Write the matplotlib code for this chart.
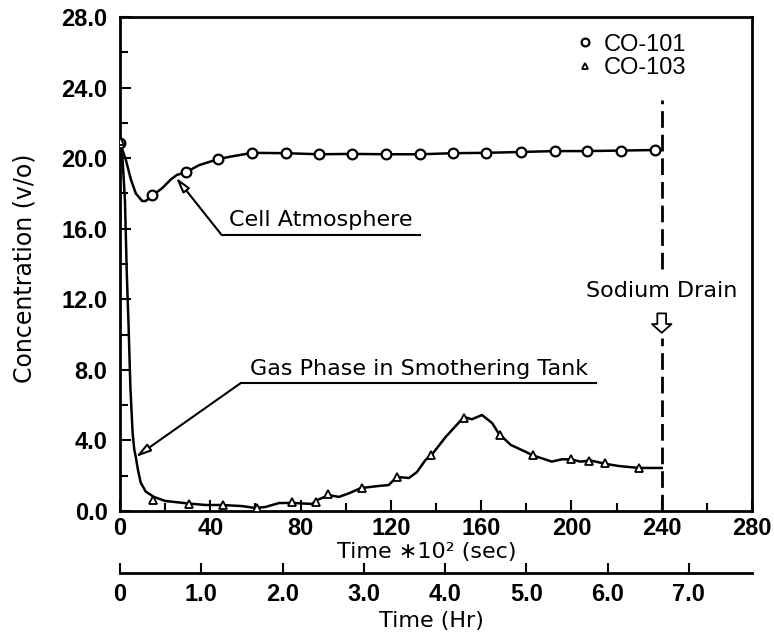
import matplotlib.pyplot as plt
from matplotlib.ticker import MultipleLocator, FormatStrFormatter

# ---- data (time in 10^2 sec, concentration in v/o) ----
co101_t = [0, 14.2, 29.2, 43.6, 58.7, 73.6, 88.2, 102.7, 118, 132.9, 147.5, 162, 177.6, 192.7, 206.8, 221.9, 237]
co101_c = [20.86, 17.9, 19.2, 19.95, 20.3, 20.28, 20.22, 20.24, 20.22, 20.22, 20.28, 20.3, 20.35, 20.4, 20.4, 20.43, 20.46]

cell_t = [0, 1.0, 2.6, 4.8, 7.0, 9.8, 11.4, 14.2, 18.7, 22.6, 25.2, 29.2, 35, 43.6, 49.6, 58.7,
          73.6, 88.2, 102.7, 118, 132.9, 147.5, 162, 177.6, 192.7, 206.8, 221.9, 237]
cell_c = [20.86, 20.5, 19.9, 18.8, 18.0, 17.57, 17.57, 17.86, 18.3, 18.8, 19.05, 19.2, 19.6, 19.95, 20.1, 20.3,
          20.28, 20.22, 20.24, 20.22, 20.22, 20.28, 20.3, 20.35, 20.4, 20.4, 20.43, 20.46]

co103_t = [0, 14.7, 30.6, 45.6, 60.8, 76, 86.7, 92, 107, 122.5, 137.8, 152.3, 168.3, 183, 199.7, 208, 215, 230]
co103_c = [21.0, 0.62, 0.42, 0.35, 0.17, 0.5, 0.5, 0.95, 1.3, 1.93, 3.2, 5.25, 4.3, 3.2, 2.94, 2.85, 2.7, 2.45]

gas_t = [0, 1.2, 2.2, 3.0, 3.8, 4.6, 5.6, 6.3, 7.0, 8.0, 9.2, 11.4, 15, 20, 30.6, 38, 45, 54, 60, 64.5,
         70.4, 76, 85, 87, 92.5, 97, 101.4, 106.7, 114.7, 119, 122.7, 128, 131.5, 135.4, 138.2, 144.3,
         149.3, 152.4, 155.9, 160.4, 164.9, 167.9, 173.2, 179.8, 182.5, 191.3, 195.8, 199.7, 204, 208.6,
         215.2, 221, 229.9, 240]
gas_c = [21.0, 19.8, 17.6, 13.5, 10.5, 7.0, 4.4, 3.5, 3.06, 2.3, 1.6, 1.1, 0.8, 0.57, 0.42, 0.34, 0.34, 0.28, 0.17, 0.23,
         0.45, 0.46, 0.4, 0.6, 0.9, 0.8, 1.0, 1.3, 1.42, 1.47, 1.93, 1.87, 2.2, 2.9, 3.2, 4.2,
         4.9, 5.33, 5.2, 5.44, 4.98, 4.37, 3.74, 3.35, 3.17, 2.8, 2.93, 2.93, 2.8, 2.86,
         2.67, 2.55, 2.44, 2.44]

drain_t = 240

hr_ticks = [0, 1, 2, 3, 4, 5, 6, 7]
hr_labels = ['0', '1.0', '2.0', '3.0', '4.0', '5.0', '6.0', '7.0']

numfont = ['Liberation Sans', 'DejaVu Sans']

fig = plt.figure(figsize=(7.74, 6.41), dpi=100)
fig.subplots_adjust(left=120/774, right=752/774, top=1-17/641, bottom=1-511/641)
ax = fig.add_subplot(111)

# curves
ax.plot(cell_t, cell_c, color='black', lw=1.8, zorder=2)
ax.plot(gas_t, gas_c, color='black', lw=1.8, zorder=2)
ax.plot(co101_t, co101_c, 'o', ms=7, mfc='white', mec='black', mew=1.6, zorder=3, label='CO-101')
ax.plot(co103_t, co103_c, '^', ms=6, mfc='white', mec='black', mew=1.3, zorder=3, label='CO-103')

# sodium drain marker
ax.plot([drain_t, drain_t], [13.7, 23.3], color='black', lw=2, ls=(0, (6, 2.5)))
ax.plot([drain_t, drain_t], [0, 9.8], color='black', lw=2, ls=(0, (6, 2.5)))
ax.text(drain_t, 12.13, 'Sodium Drain', ha='center', va='baseline', fontsize=16)
ax.annotate('', xy=(drain_t, 10.1), xytext=(drain_t, 11.2),
            arrowprops=dict(arrowstyle='simple,head_length=0.45,head_width=1.0,tail_width=0.45',
                            fc='white', ec='black', lw=1.3, mutation_scale=14, shrinkA=0, shrinkB=0))

# callouts
ax.annotate('', xy=(24.8, 18.9), xytext=(45, 15.65),
            arrowprops=dict(arrowstyle='-|>,head_length=0.9,head_width=0.25', fc='white', ec='black',
                            lw=1.5, mutation_scale=10, shrinkA=0, shrinkB=0))
ax.plot([45, 133], [15.65, 15.65], color='black', lw=1.5)
ax.text(89, 16.15, 'Cell Atmosphere', ha='center', va='baseline', fontsize=16)

ax.annotate('', xy=(7.0, 3.06), xytext=(53.6, 7.26),
            arrowprops=dict(arrowstyle='-|>,head_length=0.9,head_width=0.25', fc='white', ec='black',
                            lw=1.5, mutation_scale=10, shrinkA=0, shrinkB=0))
ax.plot([53.6, 211], [7.26, 7.26], color='black', lw=1.5)
ax.text(132.5, 7.7, 'Gas Phase in Smothering Tank', ha='center', va='baseline', fontsize=16)

# axes
ax.set_xlim(0, 280)
ax.set_ylim(0, 28)
ax.xaxis.set_major_locator(MultipleLocator(40))
ax.xaxis.set_minor_locator(MultipleLocator(20))
ax.yaxis.set_major_locator(MultipleLocator(4))
ax.yaxis.set_minor_locator(MultipleLocator(2))
ax.yaxis.set_major_formatter(FormatStrFormatter('%.1f'))
ax.tick_params(which='both', direction='in', top=False, right=False, width=1.5)
ax.tick_params(which='major', length=8)
ax.tick_params(which='minor', length=6)
ax.tick_params(axis='y', pad=9)
ax.tick_params(axis='x', pad=4)
for lab in ax.get_xticklabels() + ax.get_yticklabels():
    lab.set_family(numfont)
    lab.set_fontsize(17)
    lab.set_fontweight('bold')
for s in ax.spines.values():
    s.set_linewidth(2)

ax.set_ylabel('Concentration (v/o)', fontsize=17)
ax.yaxis.set_label_coords(-0.132, 0.492)
ax.set_xlabel('Time \u221710\u00b2 (sec)', fontsize=16)
ax.xaxis.set_label_coords(0.486, -0.063)

# hours axis
secax = ax.secondary_xaxis(-0.1255, functions=(lambda t: t / 36.0, lambda h: h * 36.0))
secax.set_xticks(hr_ticks, labels=hr_labels)
secax.tick_params(direction='in', length=7, width=1.5, pad=7)
secax.spines['bottom'].set_linewidth(2)
for lab in secax.get_xticklabels():
    lab.set_family(numfont)
    lab.set_fontsize(17)
    lab.set_fontweight('bold')
secax.set_xlabel('Time (Hr)', fontsize=16)
secax.xaxis.set_label_coords(0.493, -0.202, transform=ax.transAxes)

leg = ax.legend(loc='upper left', bbox_to_anchor=(0.698, 0.99), frameon=False, handlelength=1.0,
                handletextpad=0.3, labelspacing=0.05, borderpad=0, markerscale=0.8,
                prop={'family': numfont, 'size': 17})

fig.savefig('out.png', dpi=100)
